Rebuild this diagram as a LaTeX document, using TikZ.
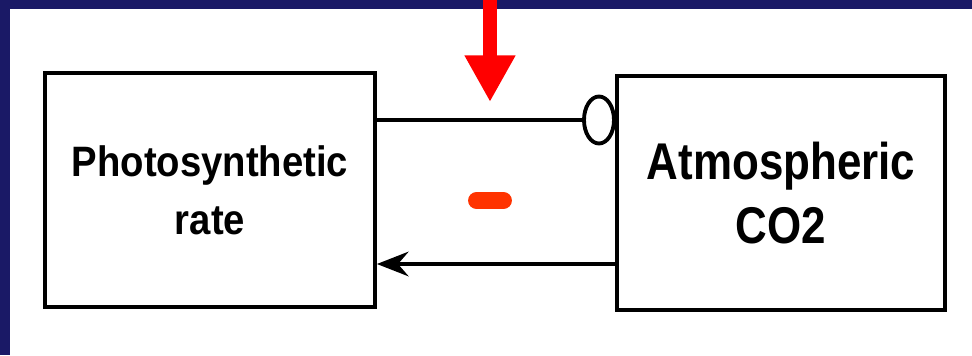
\documentclass[tikz,border=0pt]{standalone}
\usepackage{fontspec}
\setmainfont{Liberation Sans}
\newfontfamily\leftcond[FakeStretch=0.9]{Liberation Sans}
\newfontfamily\rightcond[FakeStretch=0.85]{Liberation Sans}
\usepackage{tikz}
\usetikzlibrary{arrows.meta}
\usetikzlibrary{shapes.geometric}
\definecolor{slidenavy}{RGB}{26,25,102}
\definecolor{minusred}{RGB}{255,51,0}
\tikzset{
blockbox/.style={draw,line width=2.2pt,minimum width=6.6cm,minimum height=4.68cm,align=center,inner sep=0pt},
wire/.style={line width=2.2pt}
}

\begin{document}
\begin{tikzpicture}[x=0.02cm,y=-0.02cm]
\useasboundingbox (0,0) rectangle (972,355);
\fill[slidenavy] (0,0) rectangle (972,9);
\fill[slidenavy] (0,0) rectangle (10,355);
\node[blockbox,font=\leftcond\bfseries\fontsize{24.2}{33}\selectfont] (photo) at (210,190) {Photosynthetic\\rate};
\node[blockbox,minimum width=6.56cm,font=\rightcond\bfseries\fontsize{29.4}{36.8}\selectfont] (atmco) at (781,193) {Atmospheric\\CO2};
\node[draw,ellipse,line width=2.2pt,minimum width=0.6cm,minimum height=0.94cm,inner sep=0pt] (ring) at (599,120) {};
\draw[wire] (ring.west -| photo.east) -- (ring.west);
\coordinate (lowrow) at (500,264);
\draw[wire,-{Stealth[length=18pt,width=14pt,inset=6pt]}] (lowrow -| atmco.west) -- (lowrow -| photo.east);
\coordinate (cue) at (490,0);
\coordinate (cuetip) at (490,102);
\draw[red,line width=8pt,-{Triangle[length=26.6pt,width=27.2pt]}] (cue) -- (cuetip);
\draw[minusred,line width=9.6pt,line cap=round] (476.5,200.5) -- (503.5,200.5);
\end{tikzpicture}
\end{document}
